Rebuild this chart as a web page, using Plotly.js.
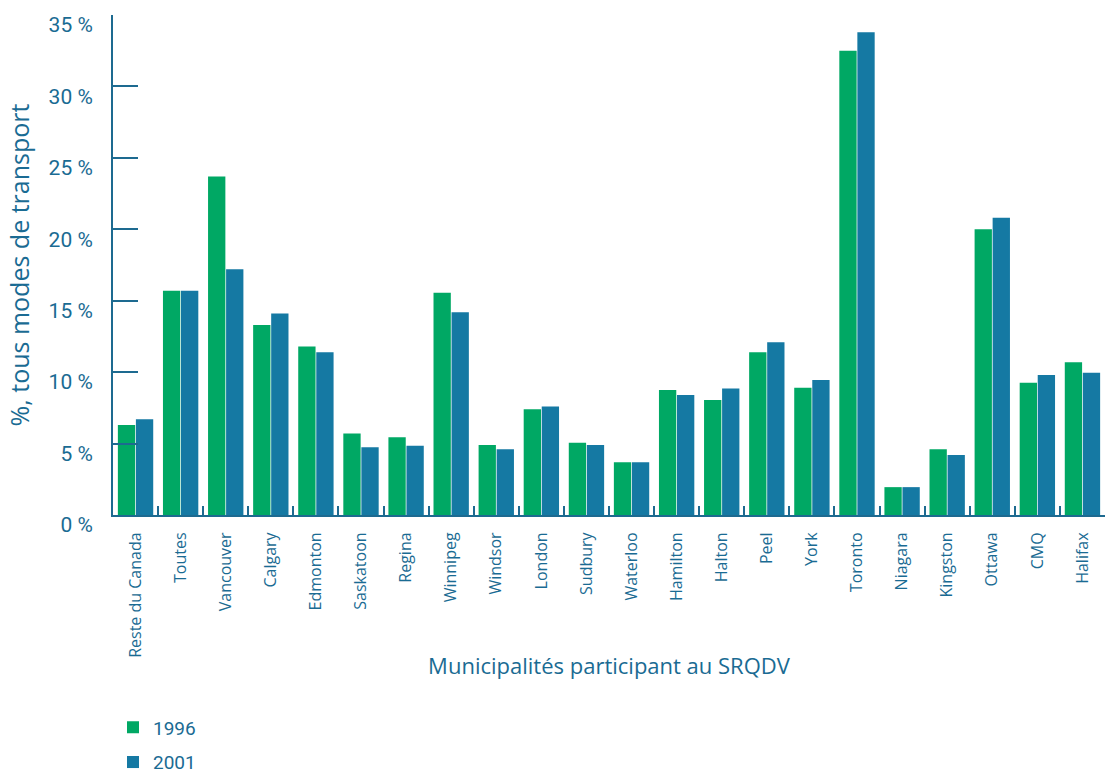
<!DOCTYPE html>
<html>
<head>
<meta charset="utf-8">
<script src="https://cdn.plot.ly/plotly-3.0.1.min.js"></script>
<style>html,body{margin:0;padding:0;background:#fff}#chart{width:1105px;height:774px}</style>
</head>
<body>
<div id="chart"></div>
<script>
const categories = ["Reste du Canada","Toutes","Vancouver","Calgary","Edmonton","Saskatoon","Regina","Winnipeg","Windsor","London","Sudbury","Waterloo","Hamilton","Halton","Peel","York","Toronto","Niagara","Kingston","Ottawa","CMQ","Halifax"];
const values1996 = [6.3,15.7,23.7,13.3,11.8,5.7,5.45,15.55,4.9,7.4,5.05,3.7,8.75,8.05,11.4,8.9,32.5,1.95,4.6,20.0,9.25,10.7];
const values2001 = [6.7,15.7,17.2,14.1,11.4,4.75,4.85,14.2,4.6,7.6,4.9,3.7,8.4,8.85,12.1,9.45,33.8,1.95,4.2,20.8,9.8,9.95];
const seriesNames = ["1996","2001"];
const yTickVals = [0,5,10,15,20,25,30,35];
const yTickText = ["0 %","5 %","10 %","15 %","20 %","25 %","30 %","35 %"];

const textColor = "#1a6b93";
const green = "#00a864";
const blue = "#1579a3";

const traces = [
  {type:"bar", name:seriesNames[0], legendgroup:"g1", x:categories, y:values1996, marker:{color:green}},
  {type:"bar", name:seriesNames[1], legendgroup:"g2", x:categories, y:values2001, marker:{color:blue}}
];

const layout = {
  width:1105, height:774,
  margin:{l:113, r:0, t:15, b:259, autoexpand:false},
  paper_bgcolor:"#fff", plot_bgcolor:"#fff",
  barmode:"group", bargap:0.2, bargroupgap:0.04,
  font:{family:"Roboto, Open Sans, sans-serif", color:textColor},
  showlegend:true,
  legend:{x:0.0, y:-0.387, xanchor:"left", yanchor:"top", orientation:"v",
          font:{size:19, color:textColor, family:"Roboto, sans-serif"},
          tracegroupgap:7, bgcolor:"rgba(0,0,0,0)"},
  xaxis:{
    type:"category", tickangle:-90,
    tickfont:{size:16, family:"Open Sans, DejaVu Sans, sans-serif", color:textColor},
    ticklabelstandoff:9,
    showline:true, linecolor:"#1d6a90", linewidth:2,
    ticks:"inside", tickson:"boundaries", ticklen:9, tickcolor:"#1d6a90", tickwidth:2,
    showgrid:false, zeroline:false,
    title:{text:"Municipalités participant au SRQDV", font:{size:22, family:"Open Sans, sans-serif", color:textColor}, standoff:2},
    automargin:false
  },
  yaxis:{
    range:[0,35], tickvals:yTickVals, ticktext:yTickText,
    tickfont:{size:21, family:"Roboto, sans-serif", color:textColor},
    ticklabelshift:10,
    showline:true, linecolor:"#1d6a90", linewidth:2,
    ticks:"inside", ticklen:25, tickcolor:"#1d6a90", tickwidth:2,
    ticklabelstandoff:14,
    showgrid:false, zeroline:false,
    title:{text:"%, tous modes de transport", font:{size:25, family:"Open Sans, sans-serif", color:textColor}, standoff:12},
    automargin:false
  }
};

Plotly.newPlot("chart", traces, layout, {displayModeBar:false, staticPlot:true});
</script>
</body>
</html>
